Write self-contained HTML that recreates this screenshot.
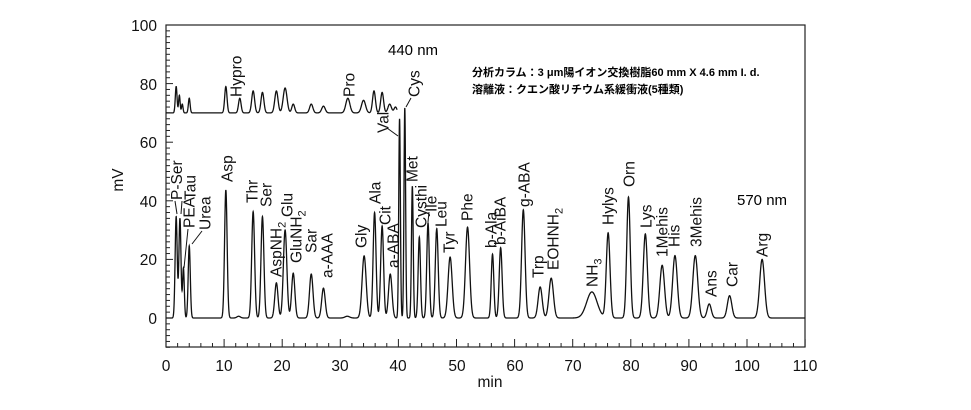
<!DOCTYPE html>
<html><head><meta charset="utf-8"><style>
body{margin:0;background:#fff}
svg{display:block;font-family:"Liberation Sans",Arial,sans-serif}
.l{font-size:15.5px;fill:#111}
</style></head><body>
<svg id="s" width="971" height="410" viewBox="0 0 971 410">
<g id="ax" stroke="#222" stroke-width="1.2" fill="none">
<rect x="166" y="25" width="639" height="322"/>
</g>
<g id="ticks" stroke="#222" stroke-width="1"></g>
<path id="lo" fill="none" stroke="#111" stroke-width="1.3"/>
<path id="up" fill="none" stroke="#111" stroke-width="1.3"/>
<g font-size="15.5" fill="#111" text-anchor="end">
<text x="157" y="31">100</text><text x="157" y="90">80</text><text x="157" y="148">60</text>
<text x="157" y="207">40</text><text x="157" y="265">20</text><text x="157" y="324">0</text>
</g>
<g font-size="15.5" fill="#111" text-anchor="middle">
<text x="166" y="371">0</text><text x="224" y="371">10</text><text x="282" y="371">20</text>
<text x="340" y="371">30</text><text x="398" y="371">40</text><text x="457" y="371">50</text>
<text x="515" y="371">60</text><text x="573" y="371">70</text><text x="631" y="371">80</text>
<text x="689" y="371">90</text><text x="747" y="371">100</text><text x="805" y="371">110</text>
<text x="490" y="387">min</text>
<text transform="translate(123,180) rotate(-90)">mV</text>
</g>
<text x="388" y="55" font-size="15">440 nm</text>
<text x="737" y="205" font-size="15">570 nm</text>
<text x="472" y="76" font-size="11" font-weight="bold" font-family="'Liberation Sans','Noto Sans CJK JP',sans-serif">分析カラム：3 μm陽イオン交換樹脂60 mm X 4.6 mm I. d.</text>
<text x="472" y="93" font-size="11" font-weight="bold" font-family="'Liberation Sans','Noto Sans CJK JP',sans-serif">溶離液：クエン酸リチウム系緩衝液(5種類)</text>
<g id="labs" class="l"></g>
<g stroke="#111" stroke-width="1" fill="none">
<path d="M175 201 L177 214"/><path d="M182 201 L181 214"/><path d="M188 229 L184 268"/><path d="M202 231 L192 244"/>
<path d="M387 128 L398 136"/><path d="M411 98 L406 107"/><path d="M429 212 L428 222"/><path d="M437 228 L436 235"/>
</g>
</svg>
<script>
const X=t=>166+t*5.81, Y=v=>318-v*2.93;
const lo=[[1.75,34.6,.18],[2.4,34,.18],[3.0,17,.15],[4.0,24.6,.18],[10.3,43.7,.22],[12.5,.6,.3],[15,36.3,.25],[16.6,34.6,.25],[19,12,.28],[20.5,30,.3],[21.9,15.3,.28],[25,15,.3],[27.1,10.2,.3],[31.2,.6,.4],[34.1,21.2,.35],[35.9,36,.25],[37.2,31.4,.25],[38.6,15,.3],[40.2,68,.14],[41.1,71.7,.14],[42.4,45,.15],[43.6,27.6,.2],[45.1,32.4,.22],[46.6,30.4,.25],[48.9,20.8,.35],[51.9,31,.35],[56.2,21.8,.22],[57.6,24,.25],[61.5,36.9,.3],[64.4,10.6,.35],[66.3,13.6,.38],[73.3,8.9,.9],[76.1,29,.32],[79.6,41.3,.3],[82.5,28.7,.35],[85.4,18,.4],[87.6,21.3,.4],[91.1,21.3,.42],[93.5,4.8,.35],[97,7.6,.38],[102.6,20,.42]];
const up=[[1.75,9,.15],[2.3,6,.13],[2.8,3,.13],[4.0,5,.15],[10.3,9,.2],[12.7,5,.22],[15,7.5,.25],[16.6,7,.25],[19,7.5,.28],[20.5,8.5,.33],[21.9,3,.25],[25,3,.28],[27.1,2.3,.3],[31.3,5,.35],[34,4.3,.35],[35.8,7.5,.25],[37.2,7,.25],[38.5,3,.3],[39.5,2,.25]];
function path(pk,t0,t1,b){let d='';for(let t=t0;t<=t1;t+=0.02){let v=b;for(const p of pk)v+=p[1]*Math.exp(-((t-p[0])**2)/(2*p[2]*p[2]));d+=(d?'L':'M')+X(t).toFixed(2)+' '+Y(v).toFixed(2);}return d;}
document.getElementById('lo').setAttribute('d',path(lo,0,110,0));
document.getElementById('up').setAttribute('d',path(up,0,39.8,70));
let tk='';
for(let t=0;t<=110;t+=2){const x=X(t);tk+=`<line x1="${x}" x2="${x}" y1="347" y2="${t%10?343:339}"/>`;}
for(let v=-10;v<=100;v+=2){const y=Y(v);tk+=`<line y1="${y}" y2="${y}" x1="166" x2="${v%20?170:173}"/>`;}
document.getElementById('ticks').innerHTML=tk;
const L=[["P-Ser",176.7,200],["PEA",189,228],["Tau",190,200],["Urea",205,230],["Asp",227,182],["Thr",252,203],["Ser",266,207],["AspNH<tspan font-size='11' dy='4'>2</tspan>",276,277],["Glu",287,217],["GluNH<tspan font-size='11' dy='4'>2</tspan>",296,263],["Sar",311,253],["a-AAA",327,278],["Gly",361,248],["Ala",375,204],["Cit",385,225],["a-ABA",393,268],["Val",383,133],["Cys",414,97],["Met",412,182],["Cysthi",421,228],["Ile",431,212],["Leu",441,227],["Tyr",449,253],["Phe",467,221],["b-Ala",491,248],["b-AiBA",500,245],["g-ABA",524,207],["Trp",538,278],["EOHNH<tspan font-size='11' dy='4'>2</tspan>",553,270],["NH<tspan font-size='11' dy='4'>3</tspan>",592,287],["Hylys",608,225],["Orn",629,187],["Lys",646,228],["1Mehis",662,257],["His",674,247],["3Mehis",696,247],["Ans",711,297],["Car",732,287],["Arg",762,257],["Hypro",236,97],["Pro",349,97]];
let h='';for(const [t,x,y] of L){h+=`<text transform="translate(${x+5.5},${y}) rotate(-90)">${t}</text>`;}
document.getElementById('labs').innerHTML=h;
</script>
</body></html>
